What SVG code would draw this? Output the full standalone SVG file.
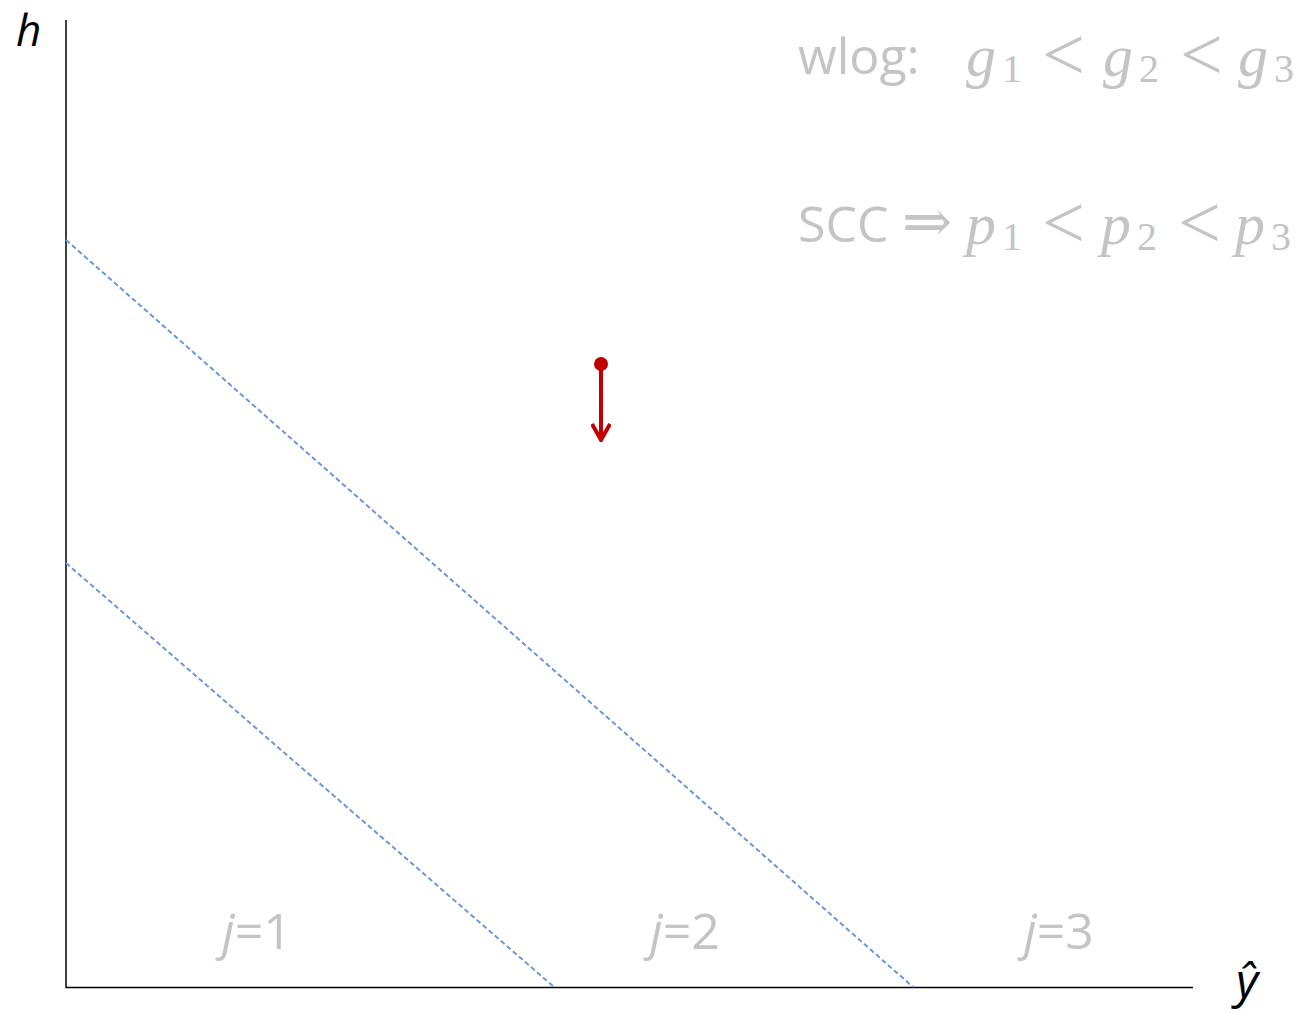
<svg xmlns="http://www.w3.org/2000/svg" width="1303" height="1012" viewBox="0 0 1303 1012">
<style>
.lbl{font-family:"Open Sans","Liberation Sans",sans-serif;fill:#c4c4c4;font-size:50px}
.math{font-family:"Liberation Serif","DejaVu Serif",serif;fill:#c4c4c4;font-size:60px}
.lt{font-family:"Liberation Serif","DejaVu Serif",serif;fill:#c4c4c4;font-size:76px}
.it{font-style:italic}
.sub{font-family:"Liberation Serif","DejaVu Serif",serif;fill:#c4c4c4;font-size:40px}
.axis{stroke:#000;stroke-width:1.5;fill:none}
.dash{stroke:#6f96d8;stroke-width:2;stroke-dasharray:5 3;fill:none}
.ax{font-family:"Open Sans","Liberation Sans",sans-serif;font-style:italic;font-size:44px;fill:#000}
</style>
<defs>
<marker id="chev" viewBox="0 0 20 20" refX="18" refY="10" markerWidth="20" markerHeight="20" markerUnits="userSpaceOnUse" orient="auto">
<path d="M2,1 L18,10 L2,19" fill="none" stroke="#c00000" stroke-width="4"/>
</marker>
</defs>
<rect width="1303" height="1012" fill="#fff"/>
<g id="axes">
<line class="axis" x1="66" y1="20" x2="66" y2="988"/>
<line class="axis" x1="66" y1="987.5" x2="1193" y2="987.5"/>
<text id="h-label" class="ax" x="16" y="46">h</text>
<text id="yhat-label" class="ax" x="1236" y="998" style="font-size:48px">ŷ</text>
</g>
<g id="connectors">
<line class="dash" x1="66" y1="240" x2="913" y2="987"/>
<line class="dash" x1="66" y1="563" x2="554" y2="987"/>
<g id="arrow">
<circle cx="601" cy="364" r="7" fill="#c00000"/>
<line x1="601" y1="364" x2="601" y2="440" stroke="#c00000" stroke-width="4" marker-end="url(#chev)"/>
</g>
</g>
<g id="wlog">
<text class="lbl" x="798" y="74">wlog:</text>
<text class="math it" x="966" y="76">g</text><text class="sub" x="1002" y="82">1</text>
<text class="lt" x="1042" y="80">&lt;</text>
<text class="math it" x="1103" y="76">g</text><text class="sub" x="1139" y="82">2</text>
<text class="lt" x="1180" y="80">&lt;</text>
<text class="math it" x="1238" y="76">g</text><text class="sub" x="1274" y="82">3</text>
</g>
<g id="scc">
<text class="lbl" x="798" y="242">SCC</text>
<text class="math" x="902" y="242">⇒</text>
<text class="math it" x="966" y="244">p</text><text class="sub" x="1002" y="250">1</text>
<text class="lt" x="1042" y="248">&lt;</text>
<text class="math it" x="1101" y="244">p</text><text class="sub" x="1137" y="250">2</text>
<text class="lt" x="1178" y="248">&lt;</text>
<text class="math it" x="1235" y="244">p</text><text class="sub" x="1271" y="250">3</text>
</g>
<g id="j1"><text class="lbl" x="222" y="949"><tspan class="it">j</tspan>=1</text></g>
<g id="j2"><text class="lbl" x="650" y="949"><tspan class="it">j</tspan>=2</text></g>
<g id="j3"><text class="lbl" x="1024" y="949"><tspan class="it">j</tspan>=3</text></g>
</svg>
